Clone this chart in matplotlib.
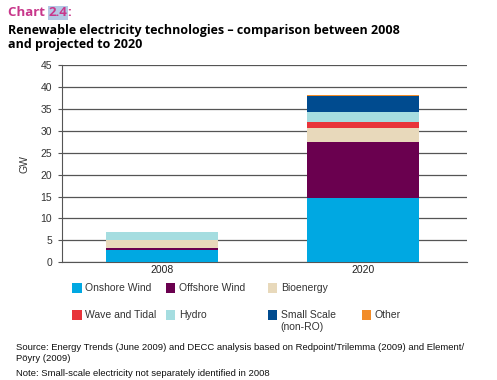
import matplotlib
matplotlib.use('Agg')
from matplotlib import pyplot as plt
from matplotlib.patches import Rectangle

# data (GW)
years = ['2008', '2020']
onshore = [2.8, 14.6]
offshore = [0.5, 12.8]
bioenergy = [1.9, 3.3]
wave_tidal = [0.0, 1.3]
hydro = [1.6, 2.2]
small_scale = [0.0, 3.8]
other = [0.0, 0.2]

series = [
    ('Onshore Wind', onshore, '#00a8e2'),
    ('Offshore Wind', offshore, '#6a004f'),
    ('Bioenergy', bioenergy, '#e8d9bb'),
    ('Wave and Tidal', wave_tidal, '#e8343a'),
    ('Hydro', hydro, '#a5dde0'),
    ('Small Scale\n(non-RO)', small_scale, '#004b8f'),
    ('Other', other, '#f28c28'),
]

plt.rcParams['font.family'] = ['Liberation Sans', 'DejaVu Sans']
title_font = ['Open Sans', 'DejaVu Sans']

fig = plt.figure(figsize=(4.97, 3.80), dpi=100)
ax = fig.add_axes([0.1247, 0.3097, 0.8153, 0.5193])

x = list(range(len(years)))
bottom = [0.0] * len(years)
for name, vals, color in series:
    ax.bar(x, vals, width=0.56, bottom=bottom, color=color, zorder=3, linewidth=0)
    bottom = [b + v for b, v in zip(bottom, vals)]

ax.set_xlim(-0.5, 1.52)
ax.set_ylim(0, 45)
ax.set_yticks(range(0, 50, 5))
ax.set_xticks(x)
ax.set_xticklabels(years)
ax.yaxis.grid(True, color='#555555', linewidth=0.9, zorder=0)
ax.tick_params(axis='y', length=3, color='#555555', labelsize=7.5, pad=4, labelcolor='#333333')
ax.tick_params(axis='x', length=0, labelsize=7.5, pad=2, labelcolor='#222222')
for s in ['top', 'right']:
    ax.spines[s].set_visible(False)
ax.spines['left'].set_color('#555555')
ax.spines['bottom'].set_color('#555555')
ax.set_ylabel('GW', fontsize=7.5, color='#333333', labelpad=8)

# title: "Chart 2.4:" with highlighted number
fig.canvas.draw()
r = fig.canvas.get_renderer()
tx = 0.017
for part, hl in [('Chart ', False), ('2.4', True), (':', False)]:
    kw = dict(fontsize=9.5, fontweight='bold', color='#c8378b', family=title_font, va='center')
    if hl:
        kw['bbox'] = dict(facecolor='#b4c8e4', edgecolor='none', pad=0.3)
    t = fig.text(tx, 0.966, part, **kw)
    w = t.get_window_extent(renderer=r).width
    tx += w / fig.bbox.width
fig.text(0.017, 0.937, 'Renewable electricity technologies \u2013 comparison between 2008\nand projected to 2020',
         fontsize=9, fontweight='bold', color='black', va='top', linespacing=1.15,
         family=title_font)

# legend laid out as in the original
legend_pos = [(0.145, 0.242), (0.334, 0.242), (0.539, 0.242),
              (0.145, 0.170), (0.334, 0.170), (0.539, 0.170), (0.728, 0.170)]
for (name, vals, color), (lx, ly) in zip(series, legend_pos):
    fig.patches.append(Rectangle((lx, ly - 0.012), 0.019, 0.026, transform=fig.transFigure,
                                 facecolor=color, edgecolor='none'))
    fig.text(lx + 0.026, ly + 0.014, name, fontsize=7.5, color='#333333', va='top', linespacing=1.3)

fig.text(0.033, 0.072, 'Source: Energy Trends (June 2009) and DECC analysis based on Redpoint/Trilemma (2009) and Element/\nP\u00f6yry (2009)',
         fontsize=6.8, color='#111111', va='center', linespacing=1.25)
fig.text(0.033, 0.016, 'Note: Small-scale electricity not separately identified in 2008',
         fontsize=6.8, color='#111111', va='center')

plt.savefig('out.png', dpi=100)
